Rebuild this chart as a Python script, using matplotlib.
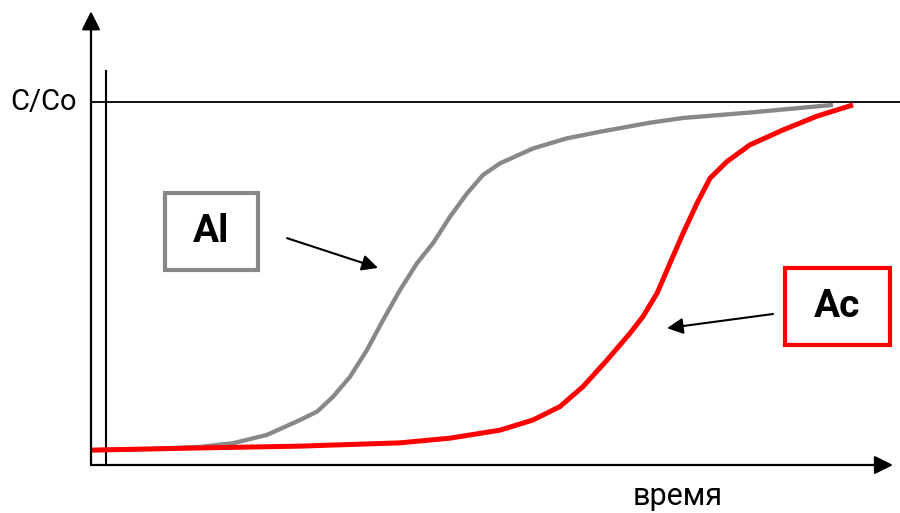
import matplotlib
matplotlib.use('Agg')
import matplotlib.pyplot as plt
from matplotlib.patches import Rectangle

# ---------------------------- данные (время, C/Co) ----------------------------
t_al = [0, 5.9, 10.9, 14.2, 17.6, 20.9, 22.6, 24.2, 25.9, 27.6, 29.2, 30.9, 32.6, 34.2, 35.9, 37.6, 39.2,
        40.9, 44.2, 47.6, 50.9, 55.9, 59.2, 65.9, 74.2]
c_al = [0.041, 0.044, 0.050, 0.060, 0.083, 0.124, 0.147, 0.188, 0.243, 0.317, 0.399, 0.482, 0.556, 0.611,
        0.684, 0.748, 0.799, 0.831, 0.872, 0.900, 0.918, 0.943, 0.956, 0.971, 0.992]

t_ac = [0, 10.9, 20.9, 30.9, 35.9, 40.9, 44.2, 46.9, 49.2, 51.6, 53.9, 55.2, 56.6, 57.9, 59.2, 60.6, 61.9,
        63.6, 65.9, 69.2, 72.6, 76.2]
c_ac = [0.041, 0.047, 0.052, 0.061, 0.074, 0.096, 0.124, 0.161, 0.216, 0.289, 0.363, 0.409, 0.473, 0.556,
        0.638, 0.721, 0.790, 0.836, 0.882, 0.923, 0.961, 0.992]

labels = ['Al', 'Ac']
colors = ['#888888', '#ff0000']

font = ['Roboto', 'DejaVu Sans']

fig = plt.figure(figsize=(9, 5.13), dpi=100)
ax = fig.add_axes([0, 0, 1, 1])
ax.set_xlim(-9.1, 80.9)
ax.set_ylim(-0.1322, 1.281)
ax.axis('off')

# ---------------------------- оси ----------------------------
ax.annotate('', xy=(0, 1.25), xytext=(0, 0),
            arrowprops=dict(arrowstyle='-|>', color='black', lw=1.6, mutation_scale=28, shrinkA=0, shrinkB=0))
ax.annotate('', xy=(80.2, 0), xytext=(0, 0),
            arrowprops=dict(arrowstyle='-|>', color='black', lw=1.6, mutation_scale=28, shrinkA=0, shrinkB=0))
ax.plot([1.5, 1.5], [0, 1.085], color='black', lw=1.5)
ax.plot([0, 80.9], [1.0, 1.0], color='black', lw=1.3)

# ---------------------------- кривые ----------------------------
ax.plot(t_al, c_al, color=colors[0], lw=3.1, solid_joinstyle='round', solid_capstyle='butt')
ax.plot(t_ac, c_ac, color=colors[1], lw=3.6, solid_joinstyle='round', solid_capstyle='butt')

ax.text(-8.1, 1.0, 'C/Co', fontsize=21, family=font, ha='left', va='center')
ax.text(58.7, -0.088, 'время', fontsize=22, family=font, ha='center', va='center')

# ---------------------------- подписи в рамках ----------------------------
ax.add_patch(Rectangle((7.4, 0.537), 9.3, 0.212, fill=False, edgecolor=colors[0], lw=3))
ax.text(12.05, 0.643, labels[0], fontsize=28, family=font, fontweight='bold', ha='center', va='center')
ax.add_patch(Rectangle((69.4, 0.331), 10.5, 0.212, fill=False, edgecolor=colors[1], lw=3))
ax.text(74.65, 0.437, labels[1], fontsize=28, family=font, fontweight='bold', ha='center', va='center')

ax.annotate('', xy=(28.7, 0.543), xytext=(19.6, 0.625),
            arrowprops=dict(arrowstyle='-|>', color='black', lw=1.5, mutation_scale=24, shrinkA=0, shrinkB=0))
ax.annotate('', xy=(57.6, 0.377), xytext=(68.2, 0.416),
            arrowprops=dict(arrowstyle='-|>', color='black', lw=1.5, mutation_scale=24, shrinkA=0, shrinkB=0))

plt.savefig('out.png', dpi=100)
